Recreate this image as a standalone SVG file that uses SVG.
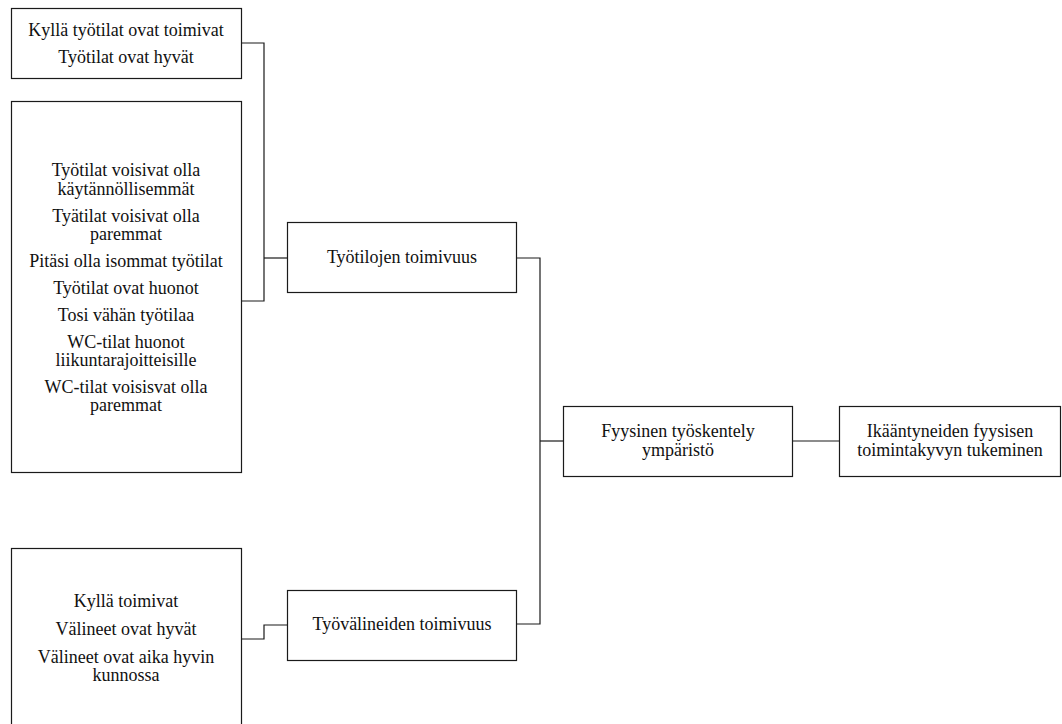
<svg xmlns="http://www.w3.org/2000/svg" width="1062" height="724" viewBox="0 0 1062 724">
  <style>
    .box { fill: #ffffff; stroke: #1a1a1a; stroke-width: 1.2; }
    .wire { fill: none; stroke: #1a1a1a; stroke-width: 1.2; }
  </style>
  <rect width="1062" height="724" fill="#ffffff"/>

  <!-- connectors -->
  <g id="connectors">
    <polyline class="wire" points="241,43 264,43 264,301 241,301"/>
    <line class="wire" x1="264" y1="258" x2="287" y2="258"/>
    <polyline class="wire" points="241,639 264,639 264,625 287,625"/>
    <polyline class="wire" points="517,258 540,258 540,624 517,624"/>
    <line class="wire" x1="540" y1="441" x2="563" y2="441"/>
    <line class="wire" x1="793" y1="441" x2="839" y2="441"/>
  </g>

  <g font-family="'Liberation Serif', 'Times New Roman', 'DejaVu Serif', serif" font-size="18" fill="#111" text-anchor="middle">
  <g id="node-hyvat-tilat">
    <rect class="box" x="11.5" y="8.5" width="230" height="70"/>
    <text x="126" y="36">Kyllä työtilat ovat toimivat</text>
    <text x="126" y="63">Työtilat ovat hyvät</text>
  </g>

  <g id="node-huonot-tilat">
    <rect class="box" x="11.5" y="101.5" width="230" height="371"/>
    <text x="126" y="176">Työtilat voisivat olla</text>
    <text x="126" y="194.5">käytännöllisemmät</text>
    <text x="126" y="221.5">Tyätilat voisivat olla</text>
    <text x="126" y="240">paremmat</text>
    <text x="126" y="267">Pitäsi olla isommat työtilat</text>
    <text x="126" y="294">Työtilat ovat huonot</text>
    <text x="126" y="321">Tosi vähän työtilaa</text>
    <text x="126" y="347.5">WC-tilat huonot</text>
    <text x="126" y="366">liikuntarajoitteisille</text>
    <text x="126" y="392.5">WC-tilat voisisvat olla</text>
    <text x="126" y="411">paremmat</text>
  </g>

  <g id="node-valineet">
    <rect class="box" x="11.5" y="548.5" width="230" height="180"/>
    <text x="126" y="607">Kyllä toimivat</text>
    <text x="126" y="635">Välineet ovat hyvät</text>
    <text x="126" y="662.5">Välineet ovat aika hyvin</text>
    <text x="126" y="681">kunnossa</text>
  </g>

  <g id="node-tyotilojen-toimivuus">
    <rect class="box" x="287.5" y="222.5" width="229" height="70"/>
    <text x="402" y="263">Työtilojen toimivuus</text>
  </g>

  <g id="node-tyovalineiden-toimivuus">
    <rect class="box" x="287.5" y="590.5" width="229" height="70"/>
    <text x="402" y="630">Työvälineiden toimivuus</text>
  </g>

  <g id="node-fyysinen-ymparisto">
    <rect class="box" x="563.5" y="406.5" width="229" height="70"/>
    <text x="678" y="436.5">Fyysinen työskentely</text>
    <text x="678" y="455.5">ympäristö</text>
  </g>

  <g id="node-toimintakyky">
    <rect class="box" x="839.5" y="406.5" width="221" height="70"/>
    <text x="950" y="436.5">Ikääntyneiden fyysisen</text>
    <text x="950" y="455.5">toimintakyvyn tukeminen</text>
  </g>
  </g>
</svg>
